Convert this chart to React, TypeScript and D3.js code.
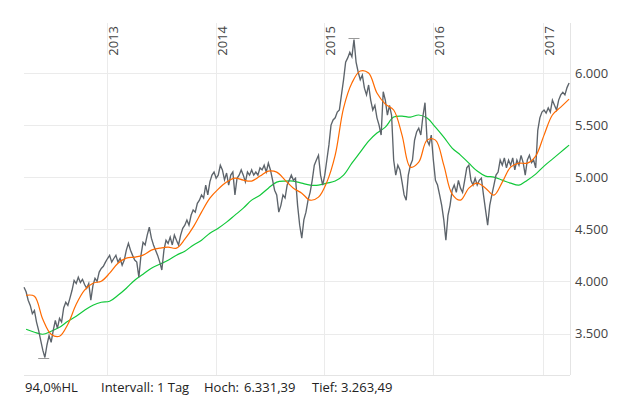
import React, { useEffect, useRef } from "react";
import * as d3 from "d3";

// weekly closes, first week 2012-03-30
const priceStart = new Date(2012, 2, 30);
const priceValues = [
  3945, 3900, 3820, 3770, 3690, 3720, 3610, 3530, 3435, 3340,
  3270, 3390, 3480, 3415, 3530, 3625, 3550, 3645, 3610, 3745,
  3800, 3770, 3840, 3915, 4010, 3980, 4040, 3990, 4020, 3970,
  3935, 3980, 3820, 3960, 4030, 4000, 4090, 4125, 4145, 4185,
  4220, 4250, 4185, 4220, 4250, 4185, 4220, 4155, 4205, 4300,
  4365, 4300, 4250, 4205, 4185, 4040, 4250, 4375, 4350, 4445,
  4520, 4415, 4350, 4300, 4250, 4185, 4110, 4300, 4395, 4365,
  4425, 4350, 4445, 4395, 4350, 4445, 4510, 4540, 4590, 4540,
  4635, 4685, 4665, 4750, 4780, 4830, 4800, 4925, 4830, 4955,
  5020, 5050, 4990, 5020, 5115, 5070, 4975, 5040, 4925, 5020,
  5050, 4830, 4990, 5020, 5070, 5020, 4955, 5050, 5020, 5070,
  5020, 5050, 5020, 5090, 5070, 5115, 5050, 5135, 5070, 4975,
  4875, 4830, 4665, 4730, 4830, 4800, 4925, 4970, 5020, 4970,
  4990, 4730, 4540, 4415, 4590, 4665, 4780, 4855, 4970, 5115,
  5165, 5210, 5020, 4925, 5020, 5165, 5310, 5500, 5550, 5570,
  5625, 5645, 5790, 5935, 6105, 6145, 6200, 6155, 6320, 6105,
  6010, 5935, 5980, 5855, 5790, 5885, 5740, 5645, 5690, 5570,
  5500, 5405, 5820, 5740, 5595, 5690, 5595, 5165, 5020, 5115,
  5070, 4955, 4830, 4780, 5020, 5115, 5165, 5355, 5435, 5470,
  5405, 5585, 5715, 5355, 5310, 5405, 5165, 4970, 4925, 4830,
  4730, 4590, 4395, 4635, 4730, 4875, 4925, 4855, 4970, 4895,
  4855, 4970, 5090, 5115, 4970, 4925, 4990, 4925, 4970, 4990,
  4830, 4685, 4540, 4730, 4830, 4925, 5020, 5050, 5165, 5115,
  5185, 5090, 5165, 5115, 5185, 5070, 5165, 5115, 5210, 5140,
  5020, 5165, 5210, 5140, 5165, 5090, 5450, 5570, 5625, 5645,
  5615, 5665, 5625, 5740, 5690, 5645, 5740, 5790, 5815, 5790,
  5860, 5905,
];

// moving averages, every 4 weeks from 2012-04-06
const maStart = new Date(2012, 3, 6);
const maShort = [
  3867, 3858, 3637, 3493, 3474, 3589, 3781, 3916, 3983, 4002,
  4079, 4175, 4223, 4233, 4252, 4300, 4319, 4329, 4319, 4405,
  4521, 4665, 4799, 4886, 4953, 4991, 4972, 4963, 5011, 5059,
  5049, 4972, 4895, 4847, 4780, 4809, 4953, 5212, 5664, 5904,
  6019, 6000, 5808, 5702, 5645, 5404, 5097, 5145, 5356, 5356,
  5116, 4838, 4780, 4895, 4943, 4895, 4828, 4953, 5097, 5135,
  5135, 5203, 5404, 5597, 5673, 5750,
];
const maLong = [
  3541, 3512, 3493, 3522, 3560, 3618, 3666, 3723, 3771, 3800,
  3810, 3867, 3935, 4012, 4069, 4127, 4165, 4204, 4252, 4290,
  4348, 4396, 4463, 4511, 4569, 4636, 4703, 4780, 4828, 4895,
  4953, 4963, 4963, 4943, 4924, 4924, 4943, 4963, 5020, 5135,
  5241, 5347, 5424, 5481, 5577, 5587, 5577, 5597, 5568, 5481,
  5385, 5280, 5212, 5135, 5059, 5011, 5001, 4972, 4943, 4924,
  4972, 5030, 5107, 5174, 5241, 5308,
];

const yearTicks = [2013, 2014, 2015, 2016, 2017];
const priceTicks = [3500, 4000, 4500, 5000, 5500, 6000];

const hoch = 6331.39;
const hochDate = new Date(2015, 3, 10);
const tief = 3263.49;
const tiefDate = new Date(2012, 5, 4);

const DAY = 864e5;

export default function App() {
  const ref = useRef<SVGSVGElement>(null);

  useEffect(() => {
    const width = 625;
    const height = 399;
    const margin = { top: 23, right: 55, bottom: 24, left: 24 };
    const innerW = width - margin.left - margin.right;
    const innerH = height - margin.top - margin.bottom;

    const de = d3.formatLocale({
      decimal: ",",
      thousands: ".",
      grouping: [3],
      currency: ["", " €"],
    });
    const fmtInt = de.format(",d");
    const fmt2 = de.format(",.2f");

    const svg = d3.select(ref.current);
    svg.selectAll("*").remove();

    const g = svg.append("g").attr("transform", `translate(${margin.left},${margin.top})`);

    const x = d3.scaleTime()
      .domain([new Date(2012, 2, 30), new Date(2017, 3, 3)])
      .range([0, innerW]);
    const y = d3.scaleLinear().domain([3102, 6480]).range([innerH, 0]);

    const price = priceValues.map((v, i) => ({ date: new Date(priceStart.getTime() + i * 7 * DAY), v }));
    const maS = maShort.map((v, i) => ({ date: new Date(maStart.getTime() + i * 28 * DAY), v }));
    const maL = maLong.map((v, i) => ({ date: new Date(maStart.getTime() + i * 28 * DAY), v }));

    const gridColor = "#ebebeb";

    // horizontal grid
    g.selectAll(".hgrid")
      .data(priceTicks)
      .enter()
      .append("line")
      .attr("x1", 0)
      .attr("x2", innerW)
      .attr("y1", (d) => Math.round(y(d)) + 0.5)
      .attr("y2", (d) => Math.round(y(d)) + 0.5)
      .attr("stroke", gridColor);

    // vertical grid at year starts
    g.selectAll(".vgrid")
      .data(yearTicks)
      .enter()
      .append("line")
      .attr("x1", (d) => Math.round(x(new Date(d, 0, 1))) + 0.5)
      .attr("x2", (d) => Math.round(x(new Date(d, 0, 1))) + 0.5)
      .attr("y1", 0)
      .attr("y2", innerH)
      .attr("stroke", gridColor);

    // bottom and right frame
    g.append("line")
      .attr("x1", 0).attr("x2", innerW)
      .attr("y1", innerH + 0.5).attr("y2", innerH + 0.5)
      .attr("stroke", "#e4e4e4");
    g.append("line")
      .attr("x1", innerW + 0.5).attr("x2", innerW + 0.5)
      .attr("y1", 0).attr("y2", innerH)
      .attr("stroke", "#e4e4e4");

    // year labels, rotated
    g.selectAll(".year")
      .data(yearTicks)
      .enter()
      .append("text")
      .attr("transform", (d) => `translate(${x(new Date(d, 0, 1)) + 11},${3}) rotate(-90)`)
      .attr("text-anchor", "end")
      .attr("font-size", 13)
      .attr("fill", "#444")
      .text((d) => d);

    // price labels on the right
    g.selectAll(".ylab")
      .data(priceTicks)
      .enter()
      .append("text")
      .attr("x", innerW + 5)
      .attr("y", (d) => y(d))
      .attr("dy", "0.36em")
      .attr("font-size", 13)
      .attr("fill", "#444")
      .text((d) => fmtInt(d));

    const line = d3.line<{ date: Date; v: number }>()
      .x((d) => x(d.date))
      .y((d) => y(d.v));

    g.append("path")
      .datum(maL)
      .attr("fill", "none")
      .attr("stroke", "#12c83a")
      .attr("stroke-width", 1.2)
      .attr("d", line.curve(d3.curveCatmullRom.alpha(0.5)));

    g.append("path")
      .datum(price)
      .attr("fill", "none")
      .attr("stroke", "#5d646b")
      .attr("stroke-width", 1.35)
      .attr("d", line.curve(d3.curveLinear));

    g.append("path")
      .datum(maS)
      .attr("fill", "none")
      .attr("stroke", "#ff6a00")
      .attr("stroke-width", 1.2)
      .attr("d", line.curve(d3.curveCatmullRom.alpha(0.5)));

    // high / low markers
    [
      { date: hochDate, v: hoch },
      { date: tiefDate, v: tief },
    ].forEach((m) => {
      g.append("line")
        .attr("x1", x(m.date) - 5.5)
        .attr("x2", x(m.date) + 5.5)
        .attr("y1", Math.round(y(m.v)) + 0.5)
        .attr("y2", Math.round(y(m.v)) + 0.5)
        .attr("stroke", "#999");
    });

    // footer
    const footer = svg.append("g").attr("font-size", 13).attr("fill", "#222");
    footer.append("text").attr("x", 25).attr("y", 392).text("94,0%HL");
    footer.append("text").attr("x", 101).attr("y", 392).text("Intervall: 1 Tag");
    footer.append("text").attr("x", 204).attr("y", 392).text("Hoch:");
    footer.append("text").attr("x", 244).attr("y", 392).text(fmt2(hoch));
    footer.append("text").attr("x", 312).attr("y", 392).text("Tief:");
    footer.append("text").attr("x", 341).attr("y", 392).text(fmt2(tief));
  }, []);

  return (
    <div style={{ position: "absolute", left: 0, top: 0 }}>
      <svg
        ref={ref}
        width={625}
        height={399}
        style={{ display: "block", background: "#fff", fontFamily: "'Open Sans', sans-serif" }}
      />
    </div>
  );
}
